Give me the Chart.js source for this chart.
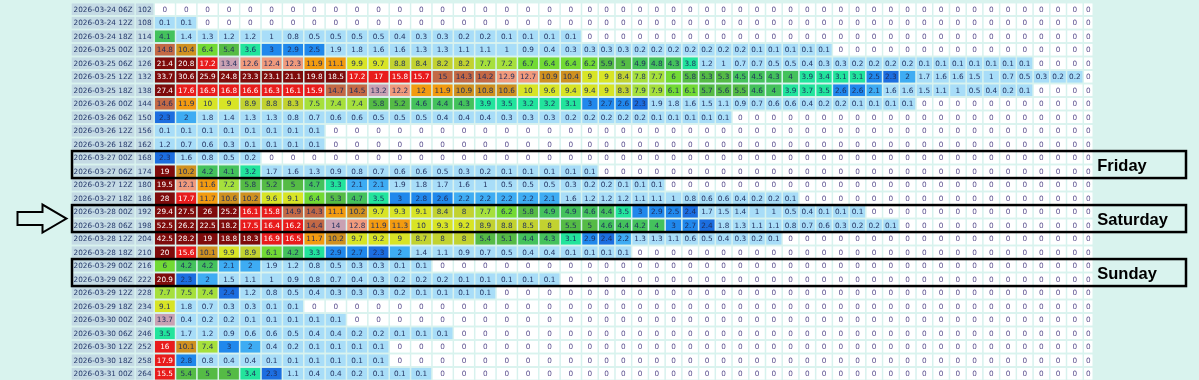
<!DOCTYPE html>
<html>
<head>
<meta charset="utf-8">
<script src="https://cdn.jsdelivr.net/npm/chart.js@4/dist/chart.umd.min.js"></script>
<style>
  html, body { margin: 0; padding: 0; background: #d9f3ee; overflow: hidden; }
  canvas { display: block; }
</style>
</head>
<body>
<canvas id="myChart" width="1199" height="384"></canvas>
<script>
// model run times (row labels) and the forecast hour of each row
var runs = [
    '2026-03-24 06Z', '2026-03-24 12Z', '2026-03-24 18Z',
    '2026-03-25 00Z', '2026-03-25 06Z', '2026-03-25 12Z', '2026-03-25 18Z',
    '2026-03-26 00Z', '2026-03-26 06Z', '2026-03-26 12Z', '2026-03-26 18Z',
    '2026-03-27 00Z', '2026-03-27 06Z', '2026-03-27 12Z', '2026-03-27 18Z',
    '2026-03-28 00Z', '2026-03-28 06Z', '2026-03-28 12Z', '2026-03-28 18Z',
    '2026-03-29 00Z', '2026-03-29 06Z', '2026-03-29 12Z', '2026-03-29 18Z',
    '2026-03-30 00Z', '2026-03-30 06Z', '2026-03-30 12Z', '2026-03-30 18Z',
    '2026-03-31 00Z'
];
var leadHours = [102, 108, 114, 120, 126, 132, 138, 144, 150, 156, 162, 168, 174, 180,
    186, 192, 198, 204, 210, 216, 222, 228, 234, 240, 246, 252, 258, 264];

// values of each row, 51 ensemble columns (sorted high to low)
var r102 = [0, 0, 0, 0, 0, 0, 0, 0, 0, 0, 0,
    0, 0, 0, 0, 0, 0, 0, 0, 0,
    0, 0, 0, 0, 0, 0, 0, 0, 0, 0, 0, 0, 0,
    0, 0, 0, 0, 0, 0, 0, 0, 0, 0, 0, 0, 0, 0, 0, 0, 0, 0];
var r108 = [0.1, 0.1, 0, 0, 0, 0, 0, 0, 0, 0, 0,
    0, 0, 0, 0, 0, 0, 0, 0, 0,
    0, 0, 0, 0, 0, 0, 0, 0, 0, 0, 0, 0, 0,
    0, 0, 0, 0, 0, 0, 0, 0, 0, 0, 0, 0, 0, 0, 0, 0, 0, 0];
var r114 = [4.1, 1.4, 1.3, 1.2, 1.2, 1, 0.8, 0.5, 0.5, 0.5, 0.5,
    0.4, 0.3, 0.3, 0.2, 0.2, 0.1, 0.1, 0.1, 0.1,
    0, 0, 0, 0, 0, 0, 0, 0, 0, 0, 0, 0, 0,
    0, 0, 0, 0, 0, 0, 0, 0, 0, 0, 0, 0, 0, 0, 0, 0, 0, 0];
var r120 = [14.8, 10.4, 6.4, 5.4, 3.6, 3, 2.9, 2.5, 1.9, 1.8, 1.6,
    1.6, 1.3, 1.3, 1.1, 1.1, 1, 0.9, 0.4, 0.3,
    0.3, 0.3, 0.3, 0.2, 0.2, 0.2, 0.2, 0.2, 0.2, 0.2, 0.1, 0.1, 0.1,
    0.1, 0.1, 0, 0, 0, 0, 0, 0, 0, 0, 0, 0, 0, 0, 0, 0, 0, 0];
var r126 = [21.4, 20.8, 17.2, 13.4, 12.6, 12.4, 12.3, 11.9, 11.1, 9.9, 9.7,
    8.8, 8.4, 8.2, 8.2, 7.7, 7.2, 6.7, 6.4, 6.4,
    6.2, 5.9, 5, 4.9, 4.8, 4.3, 3.8, 1.2, 1, 0.7, 0.7, 0.5, 0.5,
    0.4, 0.3, 0.3, 0.2, 0.2, 0.2, 0.2, 0.1, 0.1, 0.1, 0.1, 0.1, 0.1, 0.1, 0, 0, 0, 0];
var r132 = [33.7, 30.6, 25.9, 24.8, 23.3, 23.1, 21.1, 19.8, 18.5, 17.2, 17,
    15.8, 15.7, 15, 14.3, 14.2, 12.9, 12.7, 10.9, 10.4,
    9, 9, 8.4, 7.8, 7.7, 6, 5.8, 5.3, 5.3, 4.5, 4.5, 4.3, 4,
    3.9, 3.4, 3.1, 3.1, 2.5, 2.3, 2, 1.7, 1.6, 1.6, 1.5, 1, 0.7, 0.5, 0.3, 0.2, 0.2, 0];
var r138 = [27.4, 17.6, 16.9, 16.8, 16.6, 16.3, 16.1, 15.9, 14.7, 14.5, 13.2,
    12.2, 12, 11.9, 10.9, 10.8, 10.6, 10, 9.6, 9.4,
    9.4, 9, 8.3, 7.9, 7.9, 6.1, 6.1, 5.7, 5.6, 5.5, 4.6, 4, 3.9,
    3.7, 3.5, 2.6, 2.6, 2.1, 1.6, 1.6, 1.5, 1.1, 1, 0.5, 0.4, 0.2, 0.1, 0, 0, 0, 0];
var r144 = [14.6, 11.9, 10, 9, 8.9, 8.8, 8.3, 7.5, 7.4, 7.4, 5.8,
    5.2, 4.6, 4.4, 4.3, 3.9, 3.5, 3.2, 3.2, 3.1,
    3, 2.7, 2.6, 2.3, 1.9, 1.8, 1.6, 1.5, 1.1, 0.9, 0.7, 0.6, 0.6,
    0.4, 0.2, 0.2, 0.1, 0.1, 0.1, 0.1, 0, 0, 0, 0, 0, 0, 0, 0, 0, 0, 0];
var r150 = [2.3, 2, 1.8, 1.4, 1.3, 1.3, 0.8, 0.7, 0.6, 0.6, 0.5,
    0.5, 0.5, 0.4, 0.4, 0.4, 0.3, 0.3, 0.3, 0.2,
    0.2, 0.2, 0.2, 0.2, 0.1, 0.1, 0.1, 0.1, 0.1, 0, 0, 0, 0,
    0, 0, 0, 0, 0, 0, 0, 0, 0, 0, 0, 0, 0, 0, 0, 0, 0, 0];
var r156 = [0.1, 0.1, 0.1, 0.1, 0.1, 0.1, 0.1, 0.1, 0, 0, 0,
    0, 0, 0, 0, 0, 0, 0, 0, 0,
    0, 0, 0, 0, 0, 0, 0, 0, 0, 0, 0, 0, 0,
    0, 0, 0, 0, 0, 0, 0, 0, 0, 0, 0, 0, 0, 0, 0, 0, 0, 0];
var r162 = [1.2, 0.7, 0.6, 0.3, 0.1, 0.1, 0.1, 0.1, 0, 0, 0,
    0, 0, 0, 0, 0, 0, 0, 0, 0,
    0, 0, 0, 0, 0, 0, 0, 0, 0, 0, 0, 0, 0,
    0, 0, 0, 0, 0, 0, 0, 0, 0, 0, 0, 0, 0, 0, 0, 0, 0, 0];
var r168 = [2.3, 1.6, 0.8, 0.5, 0.2, 0, 0, 0, 0, 0, 0,
    0, 0, 0, 0, 0, 0, 0, 0, 0,
    0, 0, 0, 0, 0, 0, 0, 0, 0, 0, 0, 0, 0,
    0, 0, 0, 0, 0, 0, 0, 0, 0, 0, 0, 0, 0, 0, 0, 0, 0, 0];
var r174 = [19, 10.2, 4.2, 4.1, 3.2, 1.7, 1.6, 1.3, 0.9, 0.8, 0.7,
    0.6, 0.6, 0.5, 0.3, 0.2, 0.1, 0.1, 0.1, 0.1,
    0.1, 0, 0, 0, 0, 0, 0, 0, 0, 0, 0, 0, 0,
    0, 0, 0, 0, 0, 0, 0, 0, 0, 0, 0, 0, 0, 0, 0, 0, 0, 0];
var r180 = [19.5, 12.1, 11.6, 7.2, 5.8, 5.2, 5, 4.7, 3.3, 2.1, 2.1,
    1.9, 1.8, 1.7, 1.6, 1, 0.5, 0.5, 0.5, 0.3,
    0.2, 0.2, 0.1, 0.1, 0.1, 0, 0, 0, 0, 0, 0, 0, 0,
    0, 0, 0, 0, 0, 0, 0, 0, 0, 0, 0, 0, 0, 0, 0, 0, 0, 0];
var r186 = [28, 17.7, 11.7, 10.6, 10.2, 9.6, 9.1, 6.4, 5.3, 4.7, 3.5,
    3, 2.8, 2.6, 2.2, 2.2, 2.2, 2.2, 2.1, 1.6,
    1.2, 1.2, 1.2, 1.1, 1.1, 1, 0.8, 0.6, 0.6, 0.4, 0.2, 0.2, 0.1,
    0, 0, 0, 0, 0, 0, 0, 0, 0, 0, 0, 0, 0, 0, 0, 0, 0, 0];
var r192 = [29.4, 27.5, 26, 25.2, 16.1, 15.8, 14.9, 14.3, 11.1, 10.2, 9.7,
    9.3, 9.1, 8.4, 8, 7.7, 6.2, 5.8, 4.9, 4.9,
    4.6, 4.4, 3.5, 3, 2.9, 2.5, 2.4, 1.7, 1.5, 1.4, 1, 1, 0.5,
    0.4, 0.1, 0.1, 0.1, 0, 0, 0, 0, 0, 0, 0, 0, 0, 0, 0, 0, 0, 0];
var r198 = [52.5, 26.2, 22.5, 18.2, 17.5, 16.4, 16.2, 14.4, 14, 12.8, 11.9,
    11.3, 10, 9.3, 9.2, 8.9, 8.8, 8.5, 8, 5.5,
    5, 4.6, 4.4, 4.2, 4, 3, 2.7, 2.4, 1.8, 1.3, 1.1, 1.1, 0.8,
    0.7, 0.6, 0.3, 0.2, 0.2, 0.1, 0, 0, 0, 0, 0, 0, 0, 0, 0, 0, 0, 0];
var r204 = [42.5, 28.2, 19, 18.8, 18.3, 16.9, 16.5, 11.7, 10.2, 9.7, 9.2,
    9, 8.7, 8, 8, 5.4, 5.1, 4.4, 4.3, 3.1,
    2.9, 2.4, 2.2, 1.3, 1.3, 1.1, 0.6, 0.5, 0.4, 0.3, 0.2, 0.1, 0,
    0, 0, 0, 0, 0, 0, 0, 0, 0, 0, 0, 0, 0, 0, 0, 0, 0, 0];
var r210 = [20, 15.6, 10.1, 9.9, 8.9, 6.1, 4.2, 3.3, 2.9, 2.7, 2.3,
    2, 1.4, 1.1, 0.9, 0.7, 0.5, 0.4, 0.4, 0.1,
    0.1, 0.1, 0.1, 0, 0, 0, 0, 0, 0, 0, 0, 0, 0,
    0, 0, 0, 0, 0, 0, 0, 0, 0, 0, 0, 0, 0, 0, 0, 0, 0, 0];
var r216 = [6, 4.2, 4.2, 2.1, 2, 1.9, 1.2, 0.8, 0.5, 0.3, 0.3,
    0.1, 0.1, 0, 0, 0, 0, 0, 0, 0,
    0, 0, 0, 0, 0, 0, 0, 0, 0, 0, 0, 0, 0,
    0, 0, 0, 0, 0, 0, 0, 0, 0, 0, 0, 0, 0, 0, 0, 0, 0, 0];
var r222 = [20.9, 2.3, 2, 1.5, 1.1, 1, 0.9, 0.8, 0.7, 0.4, 0.3,
    0.2, 0.2, 0.2, 0.1, 0.1, 0.1, 0.1, 0.1, 0,
    0, 0, 0, 0, 0, 0, 0, 0, 0, 0, 0, 0, 0,
    0, 0, 0, 0, 0, 0, 0, 0, 0, 0, 0, 0, 0, 0, 0, 0, 0, 0];
var r228 = [7.7, 7.5, 7.4, 2.4, 1.2, 0.8, 0.5, 0.4, 0.3, 0.3, 0.3,
    0.2, 0.1, 0.1, 0.1, 0.1, 0, 0, 0, 0,
    0, 0, 0, 0, 0, 0, 0, 0, 0, 0, 0, 0, 0,
    0, 0, 0, 0, 0, 0, 0, 0, 0, 0, 0, 0, 0, 0, 0, 0, 0, 0];
var r234 = [9.1, 1.8, 0.7, 0.3, 0.3, 0.1, 0.1, 0, 0, 0, 0,
    0, 0, 0, 0, 0, 0, 0, 0, 0,
    0, 0, 0, 0, 0, 0, 0, 0, 0, 0, 0, 0, 0,
    0, 0, 0, 0, 0, 0, 0, 0, 0, 0, 0, 0, 0, 0, 0, 0, 0, 0];
var r240 = [13.7, 0.4, 0.2, 0.2, 0.1, 0.1, 0.1, 0.1, 0.1, 0, 0,
    0, 0, 0, 0, 0, 0, 0, 0, 0,
    0, 0, 0, 0, 0, 0, 0, 0, 0, 0, 0, 0, 0,
    0, 0, 0, 0, 0, 0, 0, 0, 0, 0, 0, 0, 0, 0, 0, 0, 0, 0];
var r246 = [3.5, 1.7, 1.2, 0.9, 0.6, 0.6, 0.5, 0.4, 0.4, 0.2, 0.2,
    0.1, 0.1, 0.1, 0, 0, 0, 0, 0, 0,
    0, 0, 0, 0, 0, 0, 0, 0, 0, 0, 0, 0, 0,
    0, 0, 0, 0, 0, 0, 0, 0, 0, 0, 0, 0, 0, 0, 0, 0, 0, 0];
var r252 = [16, 10.1, 7.4, 3, 2, 0.4, 0.2, 0.1, 0.1, 0.1, 0.1,
    0, 0, 0, 0, 0, 0, 0, 0, 0,
    0, 0, 0, 0, 0, 0, 0, 0, 0, 0, 0, 0, 0,
    0, 0, 0, 0, 0, 0, 0, 0, 0, 0, 0, 0, 0, 0, 0, 0, 0, 0];
var r258 = [17.9, 2.8, 0.8, 0.4, 0.4, 0.1, 0.1, 0.1, 0.1, 0.1, 0.1,
    0, 0, 0, 0, 0, 0, 0, 0, 0,
    0, 0, 0, 0, 0, 0, 0, 0, 0, 0, 0, 0, 0,
    0, 0, 0, 0, 0, 0, 0, 0, 0, 0, 0, 0, 0, 0, 0, 0, 0, 0];
var r264 = [15.5, 5.4, 5, 5, 3.4, 2.3, 1.1, 0.4, 0.4, 0.2, 0.1,
    0.1, 0.1, 0, 0, 0, 0, 0, 0, 0,
    0, 0, 0, 0, 0, 0, 0, 0, 0, 0, 0, 0, 0,
    0, 0, 0, 0, 0, 0, 0, 0, 0, 0, 0, 0, 0, 0, 0, 0, 0, 0];

var rows = [r102, r108, r114, r120, r126, r132, r138, r144, r150, r156, r162, r168, r174, r180,
    r186, r192, r198, r204, r210, r216, r222, r228, r234, r240, r246, r252, r258, r264];

// boxed days
var dayFrom = ['2026-03-27 00Z', '2026-03-28 00Z', '2026-03-29 00Z'];
var dayTo = ['2026-03-27 06Z', '2026-03-28 06Z', '2026-03-29 06Z'];
var dayNames = ['Friday', 'Saturday', 'Sunday'];
var arrowDay = 'Saturday';

var cellFont = '7.3px "DejaVu Sans"';
var gridColor = '#d6f1ee';

function cellColor(v) {
    if (v === 0) return '#ffffff';
    if (v < 2) return '#a8ddf8';
    if (v < 2.3) return '#3eacf3';
    if (v < 2.5) return '#1c6ee0';
    if (v <= 3) return '#2088ec';
    if (v < 4) return '#22e49c';
    if (v < 5) return '#44c25c';
    if (v < 6) return '#55bb45';
    if (v < 7) return '#72da34';
    if (v < 8) return '#a6e03c';
    if (v < 9) return '#c2d230';
    if (v <= 10) return '#d8e426';
    if (v < 11) return '#cf9120';
    if (v < 12.1) return '#f29b10';
    if (v < 13) return '#f09a7c';
    if (v <= 14) return '#c9a1b3';
    if (v <= 15) return '#c36945';
    if (v < 18) return '#e81c1c';
    return '#7e0b0b';
}

function inkColor(v) {
    if (v === 0) return '#5b4f8f';
    if (v > 15) return '#ffffff';
    return '#1f2d5c';
}

// column widths follow the widest text in each column, like an html table
var measure = document.createElement('canvas').getContext('2d');
measure.font = cellFont;
function textW(s) { return measure.measureText(s).width; }

var pad = 5.12;
var edges = [0];
var w = 0;
runs.forEach(function (r) { w = Math.max(w, textW(r)); });
edges.push(edges[0] + w + pad);
w = 0;
leadHours.forEach(function (h) { w = Math.max(w, textW(String(h))); });
edges.push(edges[1] + w + pad);
var nCols = rows[0].length;
for (var c = 0; c < nCols; c++) {
    w = 0;
    rows.forEach(function (row) { w = Math.max(w, textW(String(row[c]))); });
    edges.push(edges[edges.length - 1] + Math.max(w + pad, 10));
}
var total = edges[edges.length - 1];

var labelCells = [];
var valueCells = [];
runs.forEach(function (run, r) {
    labelCells.push({ x: [edges[0], edges[1]], y: run, t: run });
    labelCells.push({ x: [edges[1], edges[2]], y: run, t: String(leadHours[r]) });
    rows[r].forEach(function (v, c) {
        valueCells.push({ x: [edges[2 + c], edges[3 + c]], y: run, t: String(v), v: v });
    });
});

var cellText = {
    id: 'cellText',
    afterDatasetsDraw: function (chart) {
        var ctx = chart.ctx;
        ctx.save();
        ctx.font = cellFont;
        ctx.textAlign = 'center';
        ctx.textBaseline = 'middle';
        chart.data.datasets.forEach(function (ds, di) {
            var meta = chart.getDatasetMeta(di);
            meta.data.forEach(function (bar, i) {
                var raw = ds.data[i];
                var p = bar.getProps(['x', 'y', 'base'], true);
                ctx.fillStyle = raw.v === undefined ? '#24386a' : inkColor(raw.v);
                ctx.fillText(raw.t, (p.x + p.base) / 2, p.y + 0.5);
            });
        });
        ctx.restore();
    }
};

var dayBoxes = {
    id: 'dayBoxes',
    afterDraw: function (chart) {
        var ctx = chart.ctx;
        var y = chart.scales.y;
        var area = chart.chartArea;
        var half = (y.getPixelForValue(1) - y.getPixelForValue(0)) / 2;
        ctx.save();
        ctx.strokeStyle = '#000000';
        dayNames.forEach(function (name, k) {
            var top = y.getPixelForValue(runs.indexOf(dayFrom[k])) - half;
            var bottom = y.getPixelForValue(runs.indexOf(dayTo[k])) + half;
            var cy = (top + bottom) / 2;
            ctx.lineWidth = 2.5;
            ctx.strokeRect(area.left + 1, top, chart.width - 14 - area.left, bottom - top);

            ctx.fillStyle = '#000000';
            ctx.font = 'bold 16.5px "Liberation Sans"';
            ctx.textAlign = 'left';
            ctx.textBaseline = 'alphabetic';
            ctx.fillText(name, area.right + 4, cy + 6);

            if (name === arrowDay) {
                var tip = area.left - 4.5;
                ctx.lineWidth = 2;
                ctx.beginPath();
                ctx.moveTo(tip, cy);
                ctx.lineTo(tip - 24, cy - 14);
                ctx.lineTo(tip - 24, cy - 6.5);
                ctx.lineTo(tip - 49, cy - 6.5);
                ctx.lineTo(tip - 49, cy + 6.5);
                ctx.lineTo(tip - 24, cy + 6.5);
                ctx.lineTo(tip - 24, cy + 14);
                ctx.closePath();
                ctx.stroke();
            }
        });
        ctx.restore();
    }
};

var ctx = document.getElementById('myChart').getContext('2d');
var myChart = new Chart(ctx, {
    type: 'bar',
    data: {
        labels: runs,
        datasets: [{
            data: labelCells,
            backgroundColor: '#c4dae4'
        }, {
            data: valueCells,
            backgroundColor: function (c) { return c.raw ? cellColor(c.raw.v) : '#ffffff'; }
        }]
    },
    options: {
        indexAxis: 'y',
        responsive: false,
        animation: false,
        devicePixelRatio: 1,
        events: [],
        layout: {
            padding: { left: 71, right: 1199 - 71 - total, top: 2.55, bottom: 3.45 }
        },
        datasets: {
            bar: {
                grouped: false,
                categoryPercentage: 0.89,
                barPercentage: 1,
                borderWidth: { left: 0.75, right: 0.75, top: 0, bottom: 0 },
                borderSkipped: false,
                borderColor: gridColor
            }
        },
        scales: {
            x: { type: 'linear', min: 0, max: total, display: false },
            y: { type: 'category', offset: true, display: false }
        },
        plugins: {
            legend: { display: false },
            tooltip: { enabled: false }
        }
    },
    plugins: [cellText, dayBoxes]
});
</script>
</body>
</html>
